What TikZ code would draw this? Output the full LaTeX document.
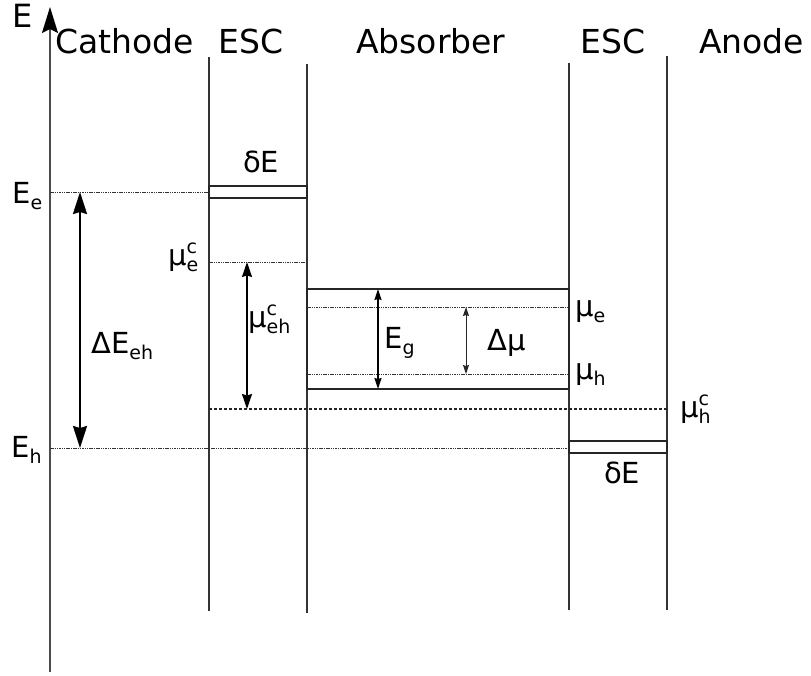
\documentclass[tikz,border=0pt]{standalone}
\usepackage{fontspec}
\setmainfont{DejaVu Sans}
\usetikzlibrary{arrows.meta}
\newcommand{\lblfont}{\fontsize{29}{33}\selectfont}
\newcommand{\hdfont}{\fontsize{33}{38}\selectfont}
\newcommand{\smfont}{\fontsize{19}{21}\selectfont}
\newcommand{\mysub}[1]{\raisebox{-6pt}{\smfont #1}}
\newcommand{\mysupsub}[2]{\rlap{\raisebox{12pt}{\smfont #1}}\raisebox{-6pt}{\smfont #2}}
\tikzset{
  lbl/.style={anchor=base west, inner sep=0pt, font=\lblfont},
  hd/.style={anchor=base west, inner sep=0pt, font=\hdfont},
  layer/.style={line width=1.3pt, draw=black!80},
  box/.style={line width=1.4pt, draw=black!85},
  dotline/.style={line width=1pt, draw=black!80, dash pattern=on 1.5pt off 0.8pt},
  dashline/.style={line width=1.4pt, draw=black!85, dash pattern=on 3pt off 2pt},
  bigtip/.tip={Stealth[inset=2pt,length=22pt,width=14pt]},
  midtip/.tip={Stealth[inset=1.5pt,length=15pt,width=10pt]},
  smalltip/.tip={Stealth[inset=1pt,length=11pt,width=7pt]},
  tinytip/.tip={Stealth[inset=1pt,length=9pt,width=6pt]},
  bigarrow/.style={line width=2pt, bigtip-bigtip},
  midarrow/.style={line width=1.6pt, midtip-midtip},
  smallarrow/.style={line width=1.3pt, smalltip-smalltip},
  tinyarrow/.style={line width=1pt, draw=black!85, tinytip-tinytip},
}
\begin{document}
\begin{tikzpicture}[x=1pt,y=-1pt]
\useasboundingbox (0,0) rectangle (811,675);
% axis
\coordinate (axb) at (50,672);
\coordinate (axt) at (50,7);
\draw[line width=1.6pt, draw=black!70, -{Stealth[inset=4pt,length=26pt,width=16pt,black]}] (axb) -- (axt);
\node[lbl, font=\fontsize{32}{36}\selectfont] (E) at (12,27) {E};
% headers
\node[hd] (cath) at (55,53) {Cathode};
\node[hd] (esc1) at (218,53) {ESC};
\node[hd] (abs) at (356,53) {Absorber};
\node[hd] (esc2) at (580,53) {ESC};
\node[hd] (anode) at (699,53) {Anode};
% vertical layer lines
\coordinate (l1t) at (209,57);  \coordinate (l1b) at (209,611);
\coordinate (l2t) at (307,64);  \coordinate (l2b) at (307,613);
\coordinate (l3t) at (569,63);  \coordinate (l3b) at (569,610);
\coordinate (l4t) at (667,56);  \coordinate (l4b) at (667,610);
\draw[layer] (l1t) -- (l1b);
\draw[layer] (l2t) -- (l2b);
\draw[layer] (l3t) -- (l3b);
\draw[layer] (l4t) -- (l4b);
% boxes
\draw[box] (209,186) rectangle (307,198);
\draw[box] (307,289) rectangle (569,389);
\draw[box] (569,441) rectangle (667,453);
% levels
\coordinate (Ee0) at (50,192);   \coordinate (Ee1) at (209,192);
\coordinate (mec0) at (209,262); \coordinate (mec1) at (307,262);
\coordinate (me0) at (307,307);  \coordinate (me1) at (569,307);
\coordinate (mh0) at (307,374);  \coordinate (mh1) at (569,374);
\coordinate (mhc0) at (209,409); \coordinate (mhc1) at (667,409);
\coordinate (Eh0) at (50,448);   \coordinate (Eh1) at (569,448);
\draw[dotline] (Ee0) -- (Ee1);
\draw[dotline] (mec0) -- (mec1);
\draw[dotline] (me0) -- (me1);
\draw[dotline] (mh0) -- (mh1);
\draw[dashline] (mhc0) -- (mhc1);
\draw[dotline] (Eh0) -- (Eh1);
% arrows
\coordinate (a1t) at (80,192);  \coordinate (a1b) at (80,448);
\coordinate (a2t) at (247,262); \coordinate (a2b) at (247,409);
\coordinate (a3t) at (378,289); \coordinate (a3b) at (378,389);
\coordinate (a4t) at (466,307); \coordinate (a4b) at (466,374);
\draw[bigarrow] (a1t) -- (a1b);
\draw[midarrow] (a2t) -- (a2b);
\draw[smallarrow] (a3t) -- (a3b);
\draw[tinyarrow] (a4t) -- (a4b);
% labels
\node[lbl] (dE1) at (243,172) {δE};
\node[lbl] (Ee) at (12,203) {E\mysub{e}};
\node[lbl] (muec) at (168,265) {μ\mysupsub{c}{e}};
\node[lbl] (DEeh) at (91,353) {ΔE\mysub{eh}};
\node[lbl] (Eh) at (11,457) {E\mysub{h}};
\node[lbl] (mueh) at (248,327) {μ\mysupsub{c}{eh}};
\node[lbl] (Eg) at (384,348) {E\mysub{g}};
\node[lbl] (Dmu) at (487,350) {Δμ};
\node[lbl] (mue) at (575,316) {μ\mysub{e}};
\node[lbl] (muh) at (575,379) {μ\mysub{h}};
\node[lbl] (muhc) at (680,417) {μ\mysupsub{c}{h}};
\node[lbl] (dE2) at (604,483) {δE};
\end{tikzpicture}
\end{document}
